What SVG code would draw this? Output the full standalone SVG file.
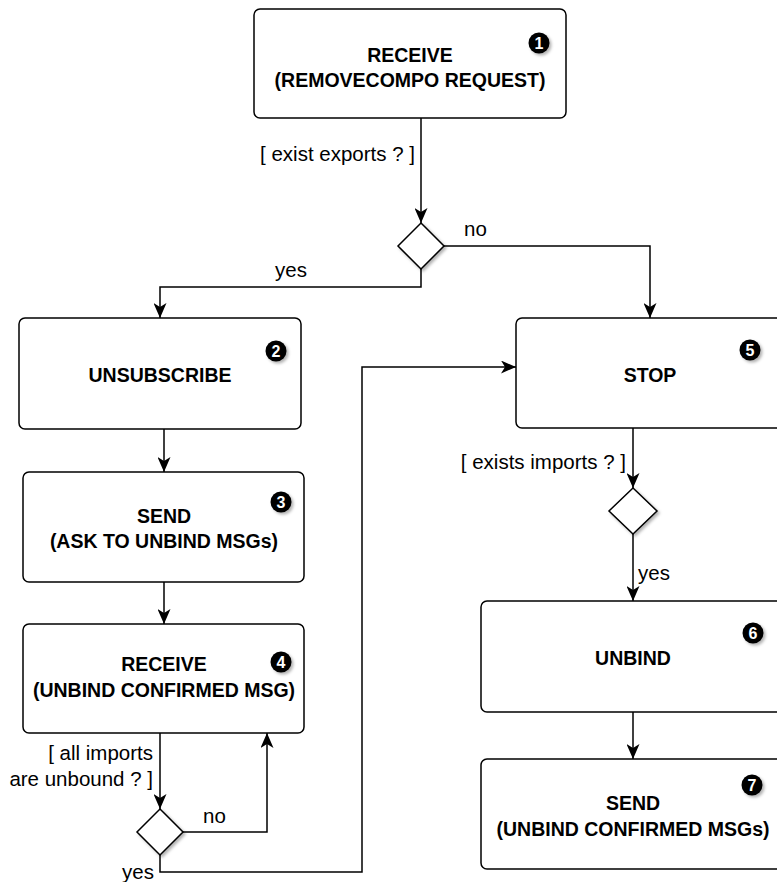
<svg xmlns="http://www.w3.org/2000/svg" width="777" height="882" viewBox="0 0 777 882">
<style>
.box{fill:#fff;stroke:#000;stroke-width:1.5}
.dia{fill:#fff;stroke:#000;stroke-width:1.5}
.t{font-family:"Liberation Sans",Arial,sans-serif;font-size:19.5px;font-weight:bold;fill:#000;text-anchor:middle}
.lbl{font-family:"Liberation Sans",Arial,sans-serif;font-size:20.5px;fill:#000}
.badge{fill:#000}
.bn{font-family:"Liberation Sans",Arial,sans-serif;font-size:16px;font-weight:bold;fill:#fff;text-anchor:middle}
.edge{fill:none;stroke:#000;stroke-width:1.5}
</style>
<defs>
<filter id="sh" x="-30%" y="-30%" width="160%" height="160%">
<feDropShadow dx="2" dy="2" stdDeviation="1.5" flood-color="#000" flood-opacity="0.3"/>
</filter>
<marker id="arr" markerUnits="userSpaceOnUse" markerWidth="15" markerHeight="13" viewBox="0 0 15 13" refX="15" refY="6.5" orient="auto">
<path d="M0,0 L15,6.5 L0,13 L4,6.5 Z" fill="#000"/>
</marker>
</defs>
<rect width="777" height="882" fill="#fff"/>
<g id="connectors">
<path class="edge" d="M421,118 V223" marker-end="url(#arr)"/>
<path class="edge" d="M444,246 H650 V318" marker-end="url(#arr)"/>
<path class="edge" d="M421,269 V287 H160 V318" marker-end="url(#arr)"/>
<path class="edge" d="M164,429 V472" marker-end="url(#arr)"/>
<path class="edge" d="M164,582 V624" marker-end="url(#arr)"/>
<path class="edge" d="M160,733 V809" marker-end="url(#arr)"/>
<path class="edge" d="M183,832 H267 V733" marker-end="url(#arr)"/>
<path class="edge" d="M160,855 V872 H362 V367 H516" marker-end="url(#arr)"/>
<path class="edge" d="M633,428 V488" marker-end="url(#arr)"/>
<path class="edge" d="M633,534 V601" marker-end="url(#arr)"/>
<path class="edge" d="M633,712 V759" marker-end="url(#arr)"/>
<text class="lbl" x="415" y="161" text-anchor="end">[ exist exports ? ]</text>
<text class="lbl" x="464" y="236">no</text>
<text class="lbl" x="275" y="277">yes</text>
<text class="lbl" x="626" y="469" text-anchor="end">[ exists imports ? ]</text>
<text class="lbl" x="638" y="580">yes</text>
<text class="lbl" x="153" y="760" text-anchor="end">[ all imports</text>
<text class="lbl" x="153" y="786" text-anchor="end">are unbound ? ]</text>
<text class="lbl" x="203" y="823">no</text>
<text class="lbl" x="122" y="879">yes</text>
</g>
<g id="n1">
<rect class="box" x="254" y="9" width="312" height="109" rx="6"/>
<circle class="badge" cx="539" cy="43" r="10.5" filter="url(#sh)"/>
<text class="bn" x="539" y="49">1</text>
<text class="t" x="410" y="62">RECEIVE</text>
<text class="t" x="410" y="87">(REMOVECOMPO REQUEST)</text>
</g>
<g id="d1">
<path class="dia" d="M421,223 L444,246 L421,269 L398,246 Z" filter="url(#sh)"/>
</g>
<g id="n2">
<rect class="box" x="19" y="318" width="282" height="111" rx="6"/>
<circle class="badge" cx="276" cy="351" r="10.5" filter="url(#sh)"/>
<text class="bn" x="276" y="357">2</text>
<text class="t" x="160" y="382">UNSUBSCRIBE</text>
</g>
<g id="n3">
<rect class="box" x="23" y="472" width="281" height="110" rx="6"/>
<circle class="badge" cx="281" cy="502" r="10.5" filter="url(#sh)"/>
<text class="bn" x="281" y="508">3</text>
<text class="t" x="164" y="523">SEND</text>
<text class="t" x="164" y="548">(ASK TO UNBIND MSGs)</text>
</g>
<g id="n4">
<rect class="box" x="23" y="624" width="281" height="109" rx="6"/>
<circle class="badge" cx="281" cy="662" r="10.5" filter="url(#sh)"/>
<text class="bn" x="281" y="668">4</text>
<text class="t" x="164" y="671">RECEIVE</text>
<text class="t" x="164" y="697">(UNBIND CONFIRMED MSG)</text>
</g>
<g id="d3">
<path class="dia" d="M160,809 L183,832 L160,855 L137,832 Z" filter="url(#sh)"/>
</g>
<g id="n5">
<rect class="box" x="516" y="318" width="270" height="110" rx="6"/>
<circle class="badge" cx="750" cy="350" r="10.5" filter="url(#sh)"/>
<text class="bn" x="750" y="356">5</text>
<text class="t" x="650" y="382">STOP</text>
</g>
<g id="d2">
<path class="dia" d="M633,488 L657,511 L633,534 L609,511 Z" filter="url(#sh)"/>
</g>
<g id="n6">
<rect class="box" x="481" y="601" width="305" height="111" rx="6"/>
<circle class="badge" cx="753" cy="633" r="10.5" filter="url(#sh)"/>
<text class="bn" x="753" y="639">6</text>
<text class="t" x="633" y="665">UNBIND</text>
</g>
<g id="n7">
<rect class="box" x="481" y="759" width="305" height="110" rx="6"/>
<circle class="badge" cx="752" cy="785" r="10.5" filter="url(#sh)"/>
<text class="bn" x="752" y="791">7</text>
<text class="t" x="633" y="810">SEND</text>
<text class="t" x="633" y="836">(UNBIND CONFIRMED MSGs)</text>
</g>
</svg>
